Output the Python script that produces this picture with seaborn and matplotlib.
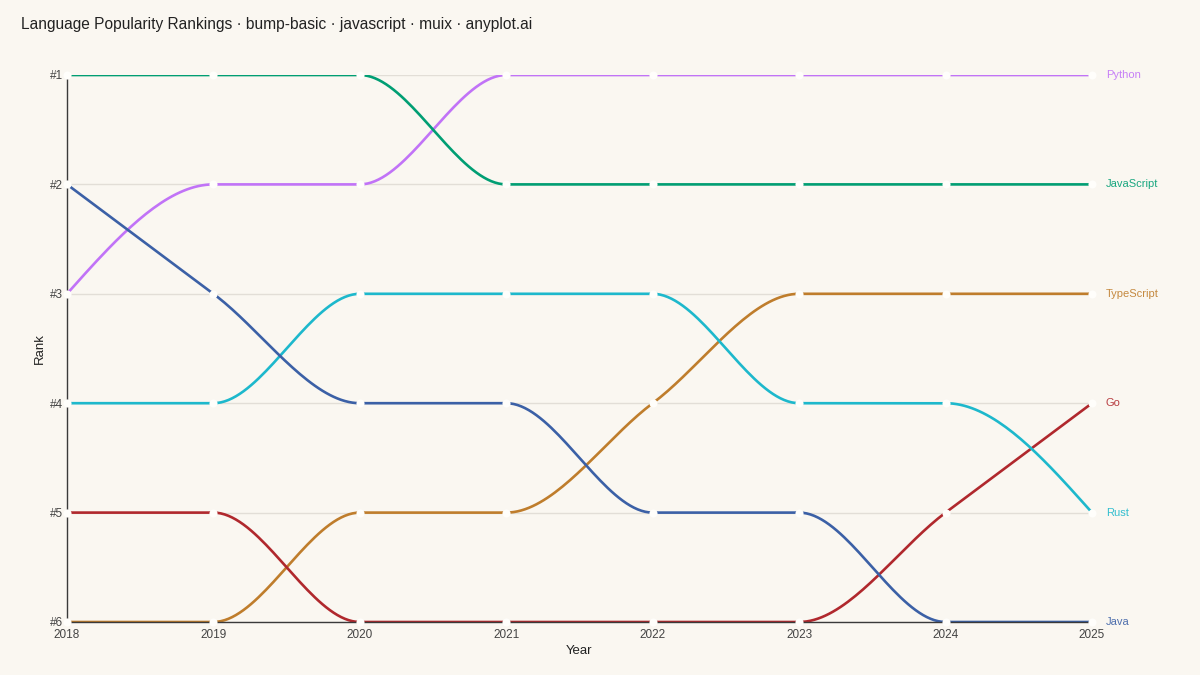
"""
Bump chart of programming language popularity ranks, 2018-2025.
Smooth monotone curves between yearly ranks, labels at the right end.
"""

import matplotlib
matplotlib.use("Agg")
import matplotlib.pyplot as plt
import numpy as np
import pandas as pd
import seaborn as sns

YEARS = [2018, 2019, 2020, 2021, 2022, 2023, 2024, 2025]
LANGUAGES = ["Python", "JavaScript", "TypeScript", "Go", "Rust", "Java"]
PYTHON = [3, 2, 2, 1, 1, 1, 1, 1]
JAVASCRIPT = [1, 1, 1, 2, 2, 2, 2, 2]
TYPESCRIPT = [6, 6, 5, 5, 4, 3, 3, 3]
GO = [5, 5, 6, 6, 6, 6, 5, 4]
RUST = [4, 4, 3, 3, 3, 4, 4, 5]
JAVA = [2, 3, 4, 4, 5, 5, 6, 6]
RANK_TICKS = [1, 2, 3, 4, 5, 6]
RANK_LABELS = ["#1", "#2", "#3", "#4", "#5", "#6"]

COLORS = {
    "Python": "#c173f7",
    "JavaScript": "#009e73",
    "TypeScript": "#bf7d2c",
    "Go": "#b0282d",
    "Rust": "#1db8cc",
    "Java": "#3b60a6",
}
BG = "#faf7f1"


def monotone_curve(xs, ys, n=40):
    """Monotone cubic (d3 curveMonotoneX style) sampled between the points."""
    xs = np.asarray(xs, float)
    ys = np.asarray(ys, float)
    h = np.diff(xs)
    s = np.diff(ys) / h
    m = np.zeros(len(xs))
    for i in range(1, len(xs) - 1):
        s0, s1 = s[i - 1], s[i]
        if s0 * s1 <= 0:
            m[i] = 0.0
        else:
            p = (s0 * h[i] + s1 * h[i - 1]) / (h[i - 1] + h[i])
            m[i] = np.sign(s0) * min(abs(s0), abs(s1), 0.5 * abs(p)) * 2
    m[0] = (3 * s[0] - m[1]) / 2
    m[-1] = (3 * s[-1] - m[-2]) / 2
    out_x, out_y = [], []
    for i in range(len(xs) - 1):
        t = np.linspace(0, 1, n)
        h00 = 2 * t**3 - 3 * t**2 + 1
        h10 = t**3 - 2 * t**2 + t
        h01 = -2 * t**3 + 3 * t**2
        h11 = t**3 - t**2
        out_x.extend(xs[i] + t * h[i])
        out_y.extend(h00 * ys[i] + h10 * h[i] * m[i] + h01 * ys[i + 1] + h11 * h[i] * m[i + 1])
    return out_x, out_y


series = {
    "Python": PYTHON,
    "JavaScript": JAVASCRIPT,
    "TypeScript": TYPESCRIPT,
    "Go": GO,
    "Rust": RUST,
    "Java": JAVA,
}

rows = []
for lang in LANGUAGES:
    cx, cy = monotone_curve(YEARS, series[lang])
    rows += [{"Year": x, "Rank": y, "Language": lang} for x, y in zip(cx, cy)]
curves = pd.DataFrame(rows)
points = pd.DataFrame(
    [{"Year": yr, "Rank": r, "Language": lang} for lang in LANGUAGES for yr, r in zip(YEARS, series[lang])]
)

sns.set_theme(style="white")
plt.rcParams["font.family"] = ["Liberation Sans", "DejaVu Sans"]

fig = plt.figure(figsize=(12, 6.75), dpi=100, facecolor=BG)
ax = fig.add_axes([67 / 1200, 1 - 622 / 675, (1092 - 67) / 1200, (622 - 75) / 675])
ax.set_facecolor(BG)

for y in RANK_TICKS:
    ax.axhline(y, color="#e2ded7", lw=1.0, zorder=0)

sns.lineplot(
    data=curves, x="Year", y="Rank", hue="Language", palette=COLORS,
    sort=False, estimator=None, units="Language", linewidth=1.9,
    legend=False, ax=ax, zorder=2,
)
sns.scatterplot(
    data=points, x="Year", y="Rank", color="#fffefb", s=34, linewidth=0,
    legend=False, ax=ax, zorder=5, clip_on=False,
)

ax.set_xlim(YEARS[0], YEARS[-1])
ax.set_ylim(RANK_TICKS[-1], RANK_TICKS[0])
ax.set_xticks(YEARS)
ax.set_xticklabels([str(y) for y in YEARS])
ax.set_yticks(RANK_TICKS)
ax.set_yticklabels(RANK_LABELS)
ax.tick_params(axis="both", labelsize=8.5, colors="#444444", length=2, width=0.6)
ax.tick_params(axis="x", pad=3)
ax.tick_params(axis="y", pad=1)

for side in ["top", "right"]:
    ax.spines[side].set_visible(False)
for side in ["left", "bottom"]:
    ax.spines[side].set_color("#3a3a3a")
    ax.spines[side].set_linewidth(1.0)
    ax.spines[side].set_zorder(3)

ax.set_xlabel("Year", fontsize=9.5, color="#222222", labelpad=3)
ax.set_ylabel("Rank", fontsize=9.5, color="#222222", labelpad=3)

for lang in LANGUAGES:
    ax.text(YEARS[-1] + 0.095, series[lang][-1], lang, color=COLORS[lang],
            fontsize=8, va="center", ha="left", clip_on=False, alpha=0.9)

fig.text(21 / 1200, 1 - 25 / 675, "Language Popularity Rankings · bump-basic · javascript · muix · anyplot.ai",
         fontsize=11.2, color="#222222", va="center", ha="left")

plt.savefig("out.png", dpi=100, facecolor=BG)
